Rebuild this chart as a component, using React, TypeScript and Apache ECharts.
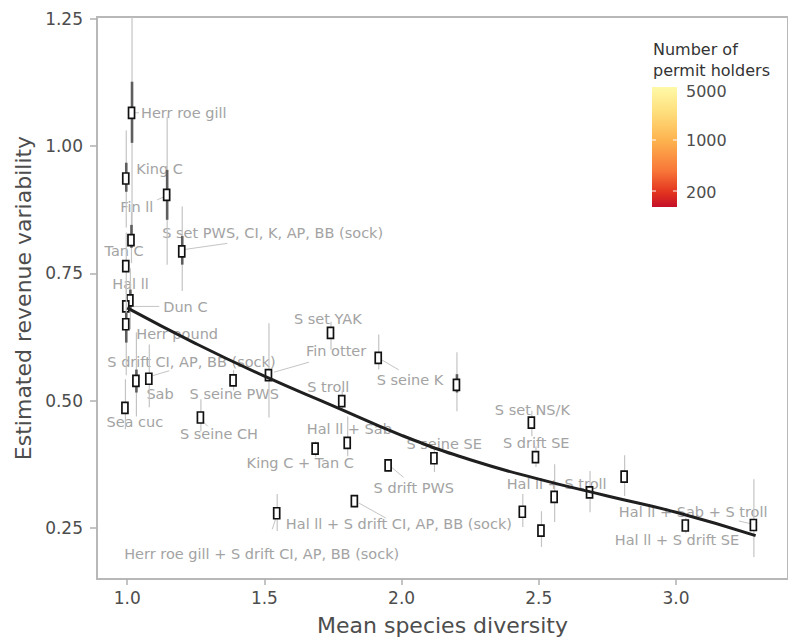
import React, { useEffect, useRef } from "react";
import * as echarts from "echarts";

// ---------- data ----------
const fisheries = [
  "Herr roe gill", "King C", "Fin ll", "S set PWS, CI, K, AP, BB (sock)", "Tan C", "Hal ll", "", "Dun C",
  "Herr pound", "Sab", "S drift CI, AP, BB (sock)", "Sea cuc", "S seine CH", "S seine PWS", "Fin otter",
  "S set YAK", "S troll", "S seine K", "", "King C + Tan C", "Hal ll + Sab", "S drift PWS", "S seine SE",
  "Hal ll + S drift CI, AP, BB (sock)", "Herr roe gill + S drift CI, AP, BB (sock)", "S set NS/K", "S drift SE",
  "Hal ll + S troll", "", "", "", "", "Hal ll + S drift SE", "Hal ll + Sab + S troll",
];
const meanDiversity = [
  1.014, 0.993, 1.142, 1.197, 1.012, 0.993, 1.008, 0.993,
  0.993, 1.030, 1.077, 0.990, 1.265, 1.384, 1.513,
  1.739, 1.780, 1.913, 2.198, 1.683, 1.800, 1.949, 2.116,
  1.826, 1.543, 2.471, 2.486,
  2.554, 2.683, 2.809, 2.438, 2.506, 3.032, 3.280,
];
const revenueVariability = [
  1.065, 0.936, 0.904, 0.793, 0.815, 0.764, 0.697, 0.685,
  0.650, 0.539, 0.543, 0.486, 0.467, 0.540, 0.550,
  0.633, 0.499, 0.584, 0.531, 0.406, 0.417, 0.373, 0.387,
  0.303, 0.279, 0.457, 0.389,
  0.311, 0.320, 0.351, 0.282, 0.245, 0.255, 0.256,
];
const ci95Low = [
  0.83, 0.84, 0.767, 0.715, 0.77, 0.71, 0.64, 0.64,
  0.55, 0.469, 0.487, 0.444, 0.44, 0.52, 0.467,
  0.60, 0.48, 0.561, 0.479, 0.39, 0.391, 0.36, 0.36,
  0.29, 0.244, 0.43, 0.37,
  0.262, 0.281, 0.313, 0.252, 0.213, 0.24, 0.193,
];
const ci95High = [
  1.30, 1.03, 1.057, 0.881, 0.87, 0.83, 0.76, 0.73,
  0.70, 0.634, 0.610, 0.542, 0.503, 0.56, 0.652,
  0.655, 0.52, 0.630, 0.595, 0.42, 0.469, 0.385, 0.411,
  0.315, 0.317, 0.48, 0.41,
  0.375, 0.362, 0.393, 0.317, 0.283, 0.27, 0.346,
];
const ci50Low = [
  1.006, 0.910, 0.855, 0.767, 0.80, 0.756, 0.679, 0.678,
  0.614, 0.516, 0.535, 0.478, 0.459, 0.532, 0.542,
  0.625, 0.491, 0.576, 0.516, 0.398, 0.409, 0.365, 0.379,
  0.295, 0.271, 0.449, 0.381,
  0.303, 0.312, 0.343, 0.274, 0.237, 0.247, 0.248,
];
const ci50High = [
  1.126, 0.967, 0.953, 0.823, 0.845, 0.772, 0.718, 0.693,
  0.673, 0.561, 0.551, 0.494, 0.475, 0.548, 0.558,
  0.641, 0.507, 0.592, 0.552, 0.414, 0.425, 0.381, 0.395,
  0.311, 0.287, 0.465, 0.397,
  0.319, 0.328, 0.359, 0.290, 0.253, 0.263, 0.264,
];
// fitted trend
const trendX = [1.0, 1.25, 1.5, 1.75, 2.0, 2.25, 2.5, 2.75, 3.0, 3.29];
const trendY = [0.682, 0.612, 0.548, 0.49, 0.432, 0.384, 0.346, 0.313, 0.281, 0.235];

const xTicks = [1.0, 1.5, 2.0, 2.5, 3.0];
const yTicks = [0.25, 0.5, 0.75, 1.0, 1.25];
const legendTitle = ["Number of", "permit holders"];
const legendLabels = ["5000", "1000", "200"];

// ---------- layout (pixel offsets of the repelled labels) ----------
const labelOffsets: [number, number][] = [
  [10, 0], [11, -10], [-46, 12], [-19, -18], [-26, 11], [-13, 18], [0, 0], [38, 1],
  [11, 10], [11, 13], [-41, -17], [-18, 14], [-20, 17], [-43, 14], [38, -24],
  [-36, -14], [-34, -14], [-1, 22], [0, 0], [-68, 14], [-40, -14], [-14, 23], [-27, -14],
  [-68, 23], [-152, 41], [-36, -13], [-32, -14],
  [-47, -13], [0, 0], [0, 0], [0, 0], [0, 0], [-70, 14], [-134, -13],
];
const leaderLines: (number[] | null)[] = [
  [3, 0, 8, 0], null, [-9, 5, -2, 2], [4, -2, 46, -8], null, null, null, [6, 0, 34, 0],
  null, null, [4, -3, 21, -8], null, [3, 4, 8, 9], null, [6, -3, 41, -13],
  null, null, [4, 2, 21, 12], null, null, null, [4, 2, 16, 12], null,
  [5, 2, 32, 17], [0, 4, -4, 16], null, null,
  null, null, null, null, null, null, [-14, -4, -1, -1],
];

const FONT = '"DejaVu Sans", Verdana, sans-serif';

export default function App() {
  const ref = useRef<HTMLDivElement>(null);
  useEffect(() => {
    document.body.style.margin = "0";
    const chart = echarts.init(ref.current!, undefined, { renderer: "svg" });
    const pointData = meanDiversity.map((x, i) => [
      x, revenueVariability[i], ci95Low[i], ci95High[i], ci50Low[i], ci50High[i],
    ]);
    const trendData = trendX.map((x, i) => [x, trendY[i]]);

    const option: any = {
      animation: false,
      backgroundColor: "#ffffff",
      grid: {
        left: 97, top: 17, bottom: 61, right: -12,
        show: true, borderColor: "#b8b8b8", borderWidth: 2, backgroundColor: "transparent",
      },
      xAxis: {
        type: "value", min: 0.89, max: 3.408,
        name: "Mean species diversity", nameLocation: "middle", nameGap: 35,
        nameTextStyle: { color: "#4d4d4d", fontSize: 22, fontFamily: FONT },
        axisLine: { show: false },
        axisTick: { show: true, length: 6, customValues: xTicks, lineStyle: { color: "#b0b0b0", width: 1.5 } },
        axisLabel: {
          customValues: xTicks, margin: 10, color: "#4d4d4d", fontSize: 17, fontFamily: FONT,
          formatter: (v: number) => v.toFixed(1),
        },
        splitLine: { show: false },
      },
      yAxis: {
        type: "value", min: 0.15, max: 1.253,
        name: "Estimated revenue variability", nameLocation: "middle", nameGap: 58, nameRotate: 90,
        nameTextStyle: { color: "#4d4d4d", fontSize: 22, fontFamily: FONT },
        axisLine: { show: false },
        axisTick: { show: true, length: 7, customValues: yTicks, lineStyle: { color: "#b0b0b0", width: 1.5 } },
        axisLabel: {
          customValues: yTicks, margin: 14, color: "#4d4d4d", fontSize: 17, fontFamily: FONT,
          formatter: (v: number) => v.toFixed(2),
        },
        splitLine: { show: false },
      },
      series: [
        {
          type: "custom",
          name: "labels",
          z: 1,
          clip: true,
          data: pointData,
          renderItem: (params: any, api: any) => {
            const i = params.dataIndex;
            const name = fisheries[i];
            if (!name) return { type: "group", children: [] };
            const p = api.coord([api.value(0), api.value(1)]);
            const [dx, dy] = labelOffsets[i];
            const children: any[] = [];
            const l = leaderLines[i];
            if (l) {
              children.push({
                type: "line",
                shape: { x1: p[0] + l[0], y1: p[1] + l[1], x2: p[0] + l[2], y2: p[1] + l[3] },
                style: { stroke: "#c4c4c4", lineWidth: 1 },
              });
            }
            children.push({
              type: "text",
              x: p[0] + dx,
              y: p[1] + dy,
              style: {
                text: name, fill: "#a3a3a3", fontSize: 14.5, fontFamily: FONT,
                align: "left", verticalAlign: "middle",
              },
            });
            return { type: "group", children };
          },
        },
        {
          type: "custom",
          name: "fisheries",
          z: 2,
          clip: true,
          data: pointData,
          renderItem: (params: any, api: any) => {
            const x = api.value(0);
            const p = api.coord([x, api.value(1)]);
            const t95 = api.coord([x, api.value(3)]);
            const b95 = api.coord([x, api.value(2)]);
            const t50 = api.coord([x, api.value(5)]);
            const b50 = api.coord([x, api.value(4)]);
            return {
              type: "group",
              children: [
                {
                  type: "line",
                  shape: { x1: p[0] + 1, y1: t95[1], x2: p[0] + 1, y2: b95[1] },
                  style: { stroke: "#c4c4c4", lineWidth: 1.2 },
                },
                {
                  type: "line",
                  shape: { x1: p[0] + 1, y1: t50[1], x2: p[0] + 1, y2: b50[1] },
                  style: { stroke: "#5e5e5e", lineWidth: 2.6 },
                },
                {
                  type: "rect",
                  shape: { x: p[0] - 2.5, y: p[1] - 5.5, width: 6, height: 11 },
                  style: { fill: "#ffffff", stroke: "#111111", lineWidth: 1.7 },
                },
              ],
            };
          },
        },
        {
          type: "line",
          name: "trend",
          z: 3,
          data: trendData,
          smooth: true,
          symbol: "none",
          lineStyle: { color: "#1f1f1f", width: 3 },
        },
      ],
      graphic: [
        {
          type: "text", left: 653, top: 41,
          style: { text: legendTitle[0], fill: "#333333", fontSize: 16, fontFamily: FONT },
        },
        {
          type: "text", left: 653, top: 62,
          style: { text: legendTitle[1], fill: "#333333", fontSize: 16, fontFamily: FONT },
        },
        {
          type: "rect",
          shape: { x: 652, y: 87, width: 25, height: 120 },
          style: {
            fill: new echarts.graphic.LinearGradient(0, 0, 0, 1, [
              { offset: 0, color: "#fff9a8" },
              { offset: 0.2, color: "#fee07e" },
              { offset: 0.45, color: "#fdb24e" },
              { offset: 0.7, color: "#f87638" },
              { offset: 0.88, color: "#e2331f" },
              { offset: 1, color: "#c40f28" },
            ]),
          },
        },
        { type: "line", shape: { x1: 652, y1: 140, x2: 656, y2: 140 }, style: { stroke: "#ffffff", lineWidth: 1 } },
        { type: "line", shape: { x1: 673, y1: 140, x2: 677, y2: 140 }, style: { stroke: "#ffffff", lineWidth: 1 } },
        { type: "line", shape: { x1: 652, y1: 191, x2: 656, y2: 191 }, style: { stroke: "#ffffff", lineWidth: 1 } },
        { type: "line", shape: { x1: 673, y1: 191, x2: 677, y2: 191 }, style: { stroke: "#ffffff", lineWidth: 1 } },
        {
          type: "text", x: 686, y: 91,
          style: { text: legendLabels[0], fill: "#4d4d4d", fontSize: 16, fontFamily: FONT, verticalAlign: "middle" },
        },
        {
          type: "text", x: 686, y: 140,
          style: { text: legendLabels[1], fill: "#4d4d4d", fontSize: 16, fontFamily: FONT, verticalAlign: "middle" },
        },
        {
          type: "text", x: 686, y: 192,
          style: { text: legendLabels[2], fill: "#4d4d4d", fontSize: 16, fontFamily: FONT, verticalAlign: "middle" },
        },
      ],
    };
    chart.setOption(option);
    return () => chart.dispose();
  }, []);
  return <div ref={ref} style={{ width: 788, height: 641, overflow: "hidden" }} />;
}
